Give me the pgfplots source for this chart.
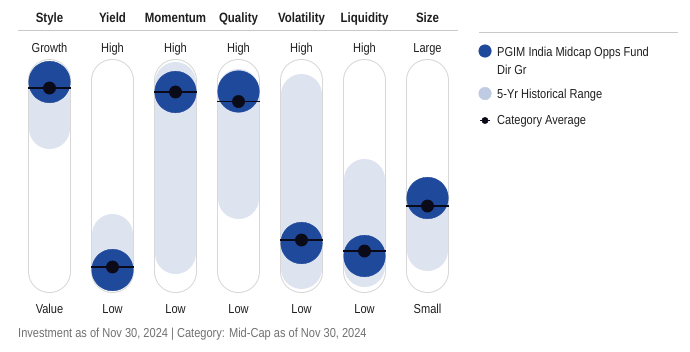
\documentclass[border=0pt]{standalone}
\usepackage{fontspec}
\setmainfont{Liberation Sans}[FakeStretch=0.85]
\usepackage{pgfplots}
\pgfplotsset{compat=1.18}
\definecolor{fundblue}{RGB}{31,73,155}
\definecolor{rangefill}{RGB}{221,227,239}
\definecolor{legrange}{RGB}{190,203,227}
\definecolor{pillgray}{RGB}{215,215,215}
\definecolor{dotblack}{RGB}{10,10,25}
\definecolor{txt}{RGB}{30,30,30}
\definecolor{foot}{RGB}{112,112,112}
\definecolor{rulegray}{RGB}{200,200,200}
\tikzset{lab/.style={font=\fontsize{13}{15}\selectfont, text=txt, inner sep=0pt},
         hd/.style={font=\fontsize{13.5}{15}\selectfont\bfseries, text=txt, inner sep=0pt}}
\newcommand{\hdr}[2]{\node[anchor=base, hd] at (axis cs:#1,22.5) {#2};}
\newcommand{\toplab}[2]{\node[anchor=base, lab] at (axis cs:#1,52.5) {#2};}
\newcommand{\botlab}[2]{\node[anchor=base, lab] at (axis cs:#1,313.5) {#2};}
\begin{document}
\begin{tikzpicture}
\begin{axis}[
  width=690pt, height=351pt, scale only axis,
  xmin=0, xmax=690, ymin=0, ymax=351, y dir=reverse,
  hide axis, clip=false,
]
\path (rel axis cs:0,0) rectangle (rel axis cs:1,1);
% pill outlines
\addplot[pillgray, line width=43pt, line cap=round, unbounded coords=jump] coordinates {
 (49.5,80.5) (49.5,271.5) (nan,nan)
 (112.5,80.5) (112.5,271.5) (nan,nan)
 (175.5,80.5) (175.5,271.5) (nan,nan)
 (238.5,80.5) (238.5,271.5) (nan,nan)
 (301.5,80.5) (301.5,271.5) (nan,nan)
 (364.5,80.5) (364.5,271.5) (nan,nan)
 (427.5,80.5) (427.5,271.5)};
\addplot[white, line width=41pt, line cap=round, unbounded coords=jump] coordinates {
 (49.5,80.5) (49.5,271.5) (nan,nan)
 (112.5,80.5) (112.5,271.5) (nan,nan)
 (175.5,80.5) (175.5,271.5) (nan,nan)
 (238.5,80.5) (238.5,271.5) (nan,nan)
 (301.5,80.5) (301.5,271.5) (nan,nan)
 (364.5,80.5) (364.5,271.5) (nan,nan)
 (427.5,80.5) (427.5,271.5)};
% 5-yr historical ranges
\addplot[rangefill, line width=41pt, line cap=round, unbounded coords=jump] coordinates {
 (49.5,82.5) (49.5,128.5) (nan,nan)
 (112.5,234.5) (112.5,270.5) (nan,nan)
 (175.5,82.5) (175.5,253.5) (nan,nan)
 (238.5,89.5) (238.5,198.5) (nan,nan)
 (301.5,94.5) (301.5,268.5) (nan,nan)
 (364.5,179.5) (364.5,266.5) (nan,nan)
 (427.5,200.5) (427.5,250.5)};
% header rules
\addplot[rulegray, line width=1pt] coordinates {(18,30.5) (458,30.5)};
\addplot[rulegray, line width=1pt] coordinates {(479,32) (678,32)};
% fund position
\addplot[fundblue, only marks, mark=*, mark size=20.8pt] coordinates {
 (49.5,82) (112.5,270) (175.5,92) (238.5,91.5) (301.5,243) (364.5,256) (427.5,198)};
% category average line
\addplot[dotblack, only marks, mark=-, mark size=21.5pt, mark options={line width=1.3pt}] coordinates {
 (49.5,88) (112.5,267) (175.5,92) (238.5,101.5) (301.5,240) (364.5,251) (427.5,206)};
% category average dot
\addplot[dotblack, only marks, mark=*, mark size=6.2pt] coordinates {
 (49.5,88) (112.5,267) (175.5,92) (238.5,101.5) (301.5,240) (364.5,251) (427.5,206)};
% legend markers
\addplot[fundblue, only marks, mark=*, mark size=6.3pt] coordinates {(485,51)};
\addplot[legrange, only marks, mark=*, mark size=6.3pt] coordinates {(485,93.5)};
\addplot[dotblack, only marks, mark=-, mark size=5pt, mark options={line width=1.3pt}] coordinates {(485,120.5)};
\addplot[dotblack, only marks, mark=*, mark size=3.2pt] coordinates {(485,120.5)};
% header
\hdr{49.5}{Style}
\hdr{112.5}{Yield}
\hdr{175.5}{Momentum}
\hdr{238.5}{Quality}
\hdr{301.5}{Volatility}
\hdr{364.5}{Liquidity}
\hdr{427.5}{Size}
\toplab{49.5}{Growth}
\toplab{112.5}{High}
\toplab{175.5}{High}
\toplab{238.5}{High}
\toplab{301.5}{High}
\toplab{364.5}{High}
\toplab{427.5}{Large}
\botlab{49.5}{Value}
\botlab{112.5}{Low}
\botlab{175.5}{Low}
\botlab{238.5}{Low}
\botlab{301.5}{Low}
\botlab{364.5}{Low}
\botlab{427.5}{Small}
% legend text
\node[anchor=base west, lab] at (axis cs:497,56.5) {PGIM India Midcap Opps Fund};
\node[anchor=base west, lab] at (axis cs:497,74) {Dir Gr};
\node[anchor=base west, lab] at (axis cs:497,98.5) {5-Yr Historical Range};
\node[anchor=base west, lab] at (axis cs:497,124.5) {Category Average};
% footer
\node[anchor=base west, lab, text=foot] at (axis cs:18,337) {Investment as of Nov 30, 2024 | Category: Mid-Cap as of Nov 30, 2024};
\end{axis}
\end{tikzpicture}
\end{document}
